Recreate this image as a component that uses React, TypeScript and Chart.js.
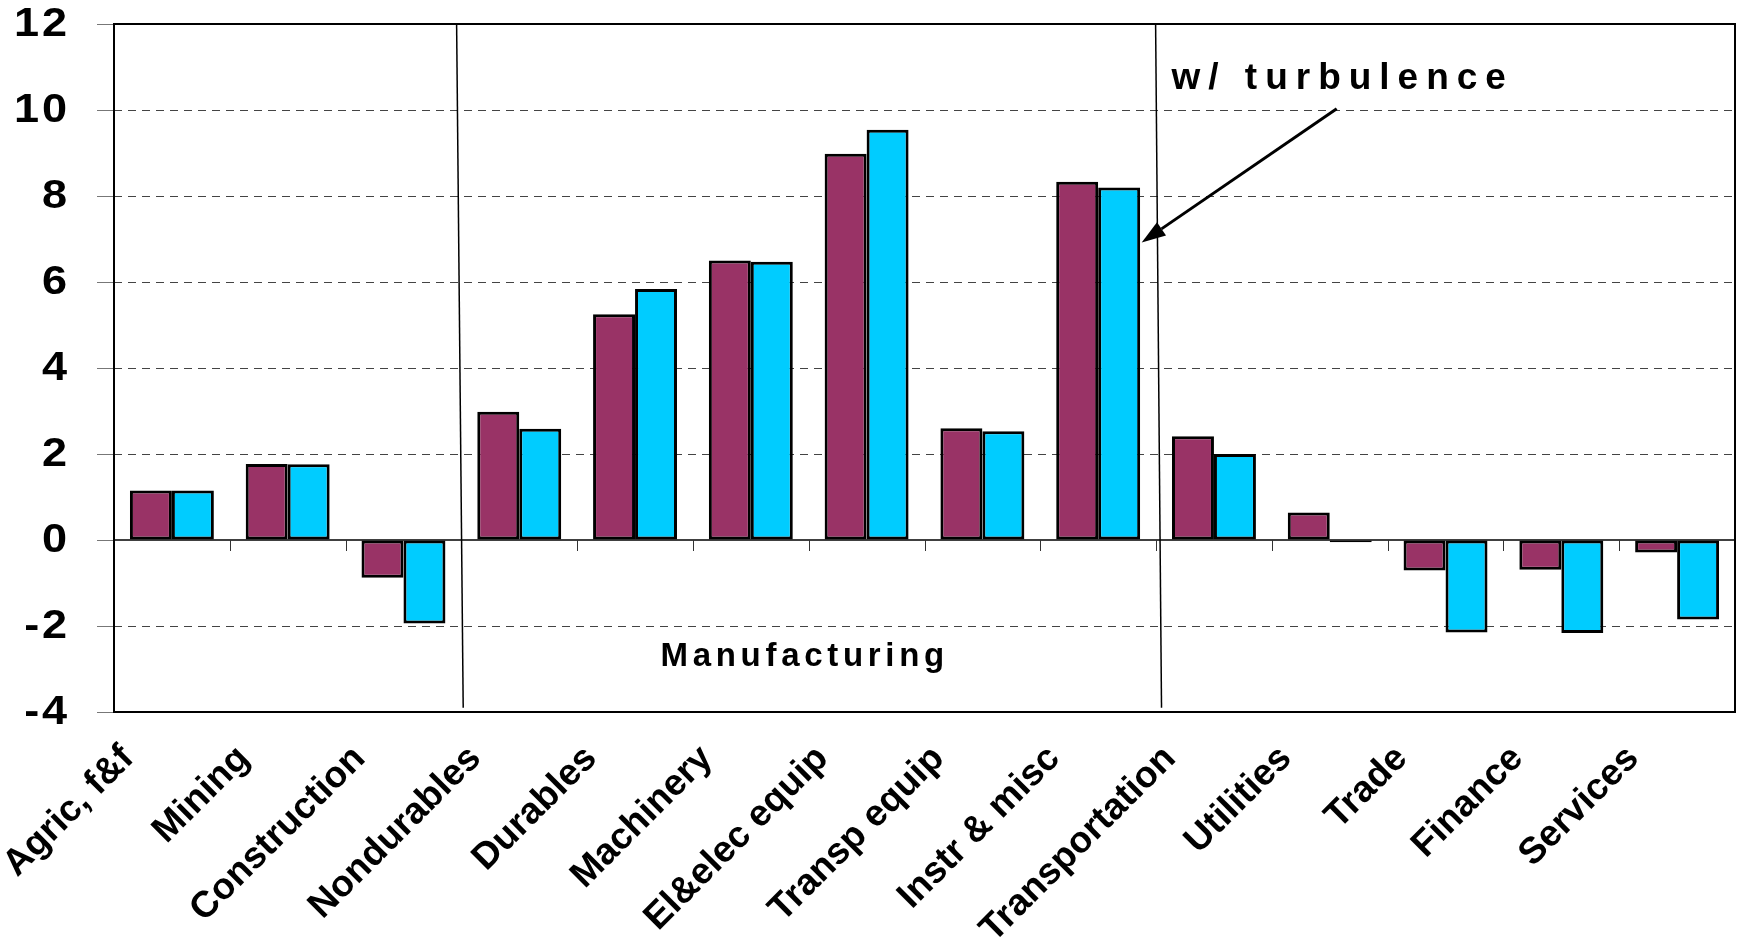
import React, { useEffect, useRef } from 'react';
import { Chart, registerables } from 'chart.js';

Chart.register(...registerables);

const categories = [
  'Agric, f&f',
  'Mining',
  'Construction',
  'Nondurables',
  'Durables',
  'Machinery',
  'El&elec equip',
  'Transp equip',
  'Instr & misc',
  'Transportation',
  'Utilities',
  'Trade',
  'Finance',
  'Services',
];

const baseValues = [1.15, 1.77, -0.88, 2.98, 5.25, 6.5, 8.98, 2.6, 8.33, 2.41, 0.64, -0.71, -0.69, -0.29];
const turbulenceValues = [1.15, 1.76, -1.94, 2.59, 5.84, 6.47, 9.54, 2.53, 8.2, 2.0, -0.05, -2.15, -2.16, -1.85];

const yMin = -4;
const yMax = 12;
const yStep = 2;

const annotationText = 'w/ turbulence';
const groupText = 'Manufacturing';

const FONT = '"Liberation Sans", Arial, Helvetica, sans-serif';

const overlayPlugin = {
  id: 'overlay',
  beforeDatasetsDraw(chart: any) {
    const { ctx, chartArea: a, scales } = chart;
    const x = scales.x;
    const y = scales.y;
    const y0 = y.getPixelForValue(0);
    ctx.save();

    // y tick marks (left of axis) and labels
    ctx.strokeStyle = '#777';
    ctx.lineWidth = 1;
    ctx.fillStyle = '#000';
    ctx.font = `bold 41px ${FONT}`;
    ctx.textAlign = 'right';
    ctx.textBaseline = 'middle';
    const ls = 2.5;
    const stretch = 1.1;
    (ctx as any).letterSpacing = `${ls}px`;
    for (const t of y.ticks) {
      const py = Math.round(y.getPixelForValue(t.value)) + 0.5;
      ctx.beginPath();
      ctx.moveTo(a.left - 17, py);
      ctx.lineTo(a.left, py);
      ctx.stroke();
      ctx.save();
      ctx.translate(a.left - 47 + ls * stretch, y.getPixelForValue(t.value) + 1);
      ctx.scale(stretch, 1);
      ctx.fillText(String(t.value), 0, 0);
      ctx.restore();
    }
    (ctx as any).letterSpacing = '0px';

    // zero line with category ticks
    ctx.strokeStyle = '#000';
    ctx.lineWidth = 1.5;
    ctx.beginPath();
    ctx.moveTo(a.left, y0);
    ctx.lineTo(a.right, y0);
    ctx.stroke();
    ctx.lineWidth = 1;
    ctx.strokeStyle = '#333';
    for (let k = 1; k < categories.length; k++) {
      const px = Math.round(x.getPixelForValue(k - 0.5)) + 0.5;
      ctx.beginPath();
      ctx.moveTo(px, y0);
      ctx.lineTo(px, y0 + 11);
      ctx.stroke();
    }
    ctx.restore();
  },
  afterDatasetsDraw(chart: any) {
    const { ctx, chartArea: a, scales } = chart;
    const x = scales.x;
    const y = scales.y;
    ctx.save();

    // plot border
    ctx.strokeStyle = '#000';
    ctx.lineWidth = 2;
    ctx.strokeRect(a.left, a.top, a.right - a.left, a.bottom - a.top);

    // section separators
    ctx.lineWidth = 1.5;
    const seps = [
      [2.459, 2.516],
      [8.496, 8.547],
    ];
    const sepBottom = y.getPixelForValue(-3.9);
    for (const [t, b] of seps) {
      ctx.beginPath();
      ctx.moveTo(x.getPixelForValue(t), a.top);
      ctx.lineTo(x.getPixelForValue(b), sepBottom);
      ctx.stroke();
    }

    // arrow
    const sx = x.getPixelForValue(10.06);
    const sy = y.getPixelForValue(10.03);
    const tx = x.getPixelForValue(8.376);
    const ty = y.getPixelForValue(6.92);
    const ang = Math.atan2(ty - sy, tx - sx);
    const headLen = 24;
    const headHalf = 8;
    const bx = tx - headLen * Math.cos(ang);
    const by = ty - headLen * Math.sin(ang);
    ctx.lineWidth = 3;
    ctx.beginPath();
    ctx.moveTo(sx, sy);
    ctx.lineTo(bx, by);
    ctx.stroke();
    ctx.fillStyle = '#000';
    ctx.beginPath();
    ctx.moveTo(tx, ty);
    ctx.lineTo(bx + headHalf * Math.sin(ang), by - headHalf * Math.cos(ang));
    ctx.lineTo(bx - headHalf * Math.sin(ang), by + headHalf * Math.cos(ang));
    ctx.closePath();
    ctx.fill();

    // texts
    ctx.fillStyle = '#000';
    ctx.textAlign = 'left';
    ctx.textBaseline = 'alphabetic';
    ctx.font = `bold 37px ${FONT}`;
    (ctx as any).letterSpacing = '8px';
    ctx.fillText(annotationText, x.getPixelForValue(8.633), y.getPixelForValue(10.49));

    ctx.font = `bold 33px ${FONT}`;
    (ctx as any).letterSpacing = '4.7px';
    ctx.fillText(groupText, x.getPixelForValue(4.22), y.getPixelForValue(-2.94));
    (ctx as any).letterSpacing = '0px';

    ctx.restore();
  },
};

export default function App() {
  const canvasRef = useRef<HTMLCanvasElement | null>(null);

  useEffect(() => {
    if (!canvasRef.current) return;
    const chart = new Chart(canvasRef.current, {
      type: 'bar',
      data: {
        labels: categories,
        datasets: [
          {
            label: 'Baseline',
            data: baseValues,
            backgroundColor: '#993366',
            borderColor: '#000000',
            borderWidth: 3,
            borderSkipped: false,
          },
          {
            label: annotationText,
            data: turbulenceValues,
            backgroundColor: '#00CCFF',
            borderColor: '#000000',
            borderWidth: 3,
            borderSkipped: false,
          },
        ],
      },
      options: {
        animation: false,
        responsive: true,
        maintainAspectRatio: false,
        datasets: {
          bar: {
            categoryPercentage: 0.725,
            barPercentage: 1.0,
          },
        },
        layout: {
          padding: { top: 24, right: 3, left: 0, bottom: 0 },
        },
        plugins: {
          legend: { display: false },
          tooltip: { enabled: false },
          title: { display: false },
        },
        scales: {
          x: {
            grid: { display: false },
            border: { display: false },
            ticks: {
              autoSkip: false,
              minRotation: 45,
              maxRotation: 45,
              padding: 17,
              labelOffset: -44,
              color: '#000',
              font: { family: FONT, size: 37, weight: 'bold' },
            },
            afterFit: (scale: any) => {
              scale.height = 228;
              scale.paddingLeft = 0;
              scale.paddingRight = 0;
            },
          },
          y: {
            min: yMin,
            max: yMax,
            ticks: {
              stepSize: yStep,
              display: false,
            },
            grid: {
              drawTicks: false,
              lineWidth: 1,
              color: (c: any) => {
                const v = c.tick ? c.tick.value : null;
                if (v === 0 || v === yMin || v === yMax) return 'rgba(0,0,0,0)';
                return '#444';
              },
            },
            border: { display: false, dash: [8, 6] },
            afterFit: (scale: any) => {
              scale.width = 114;
              scale.paddingTop = 0;
              scale.paddingBottom = 0;
            },
          },
        },
      },
      plugins: [overlayPlugin],
    });
    return () => chart.destroy();
  }, []);

  return (
    <div style={{ position: 'absolute', left: 0, top: 0, width: 1738, height: 940, background: '#fff' }}>
      <canvas ref={canvasRef} />
    </div>
  );
}
